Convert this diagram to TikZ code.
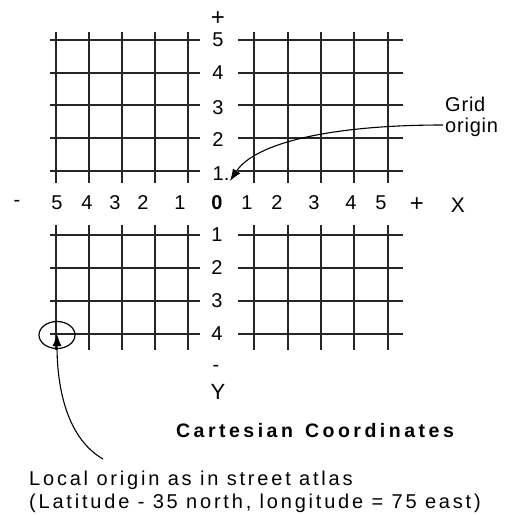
\documentclass[tikz,border=0pt]{standalone}
\usepackage{fontspec}
\setmainfont{Liberation Sans}
\newfontfamily\spacedfont[LetterSpace=18]{Liberation Sans}
\newfontfamily\notefont[LetterSpace=14]{Liberation Sans}
\newfontfamily\gofont[LetterSpace=4]{Liberation Sans}
\usetikzlibrary{arrows.meta,shapes.geometric}
\begin{document}
\begin{tikzpicture}[x=1pt,y=-1pt,
  gridline/.style={line width=2pt,black!85},
  lab/.style={font=\fontsize{20}{20}\selectfont,inner sep=0pt},
  big/.style={font=\fontsize{24}{24}\selectfont,inner sep=0pt},
  note/.style={font=\fontsize{20}{22}\notefont,inner sep=0pt,anchor=base west},
  gonote/.style={font=\fontsize{20}{22}\gofont,inner sep=0pt,anchor=base west},
  pointer/.style={line width=1.1pt,-{Latex[length=12pt,width=9pt]}}]
\useasboundingbox (0,0) rectangle (505,515);
% upper grids
\foreach \y in {40,73,105,138,171}{
  \draw[gridline] (50,\y) -- (200,\y);
  \draw[gridline] (238,\y) -- (403,\y);}
\foreach \x in {56,89,122,155,188}{\draw[gridline] (\x,32) -- (\x,183);}
\foreach \x in {254,288,321,354,388}{\draw[gridline] (\x,32) -- (\x,183);}
% lower grids
\foreach \y in {235,268,301,334}{
  \draw[gridline] (50,\y) -- (200,\y);
  \draw[gridline] (238,\y) -- (403,\y);}
\foreach \x in {56,89,122,155,188}{\draw[gridline] (\x,225) -- (\x,350);}
\foreach \x in {254,288,321,354,388}{\draw[gridline] (\x,225) -- (\x,350);}
% y labels
\node[big] (yp) at (218,19) {+};
\node[lab] (y5) at (218,40) {5};
\node[lab] (y4) at (218,73) {4};
\node[lab] (y3) at (218,108) {3};
\node[lab] (y2) at (218,140) {2};
\node[lab] (y1) at (221,174) {1.};
\node[lab] (yn1) at (217,235) {1};
\node[lab] (yn2) at (217,268) {2};
\node[lab] (yn3) at (217,301) {3};
\node[lab] (yn4) at (217,334) {4};
\node[lab] (ym) at (216,368) {-};
\node[font=\fontsize{22}{22}\selectfont,inner sep=0pt] (Y) at (218,392) {Y};
% x labels
\node[lab] (xm) at (17,203) {-};
\node[lab] (xn5) at (57,203) {5};
\node[lab] (xn4) at (87,203) {4};
\node[lab] (xn3) at (115,203) {3};
\node[lab] (xn2) at (143,203) {2};
\node[lab] (xn1) at (180,203) {1};
\node[lab,font=\fontsize{20}{20}\selectfont\bfseries] (o) at (217,203) {0};
\node[lab] (x1) at (247,203) {1};
\node[lab] (x2) at (277,203) {2};
\node[lab] (x3) at (314,203) {3};
\node[lab] (x4) at (351,203) {4};
\node[lab] (x5) at (381,203) {5};
\node[big] (xp) at (417,205) {+};
\node[font=\fontsize{21}{21}\selectfont,inner sep=0pt] (X) at (458,205) {X};
% grid origin
\node[gonote] (go1) at (445,111) {Grid};
\node[gonote] (go2) at (445,132) {origin};
\coordinate (gotip) at (230,181);
\draw[pointer] (443,125) .. controls (330,125) and (255,143) .. (gotip);
% local origin
\node[draw,ellipse,line width=1.2pt,minimum width=36pt,minimum height=27pt,inner sep=0pt] (lo) at (57,335) {};
\coordinate (lotip) at (57,334);
\node[note] (lo1) at (29,485) {Local origin as in street atlas};
\node[note] (lo2) at (29,508) {(Latitude - 35 north, longitude = 75 east)};
\draw[pointer] (103,459) .. controls (70,440) and (57,395) .. (lotip);
% title
\node[inner sep=0pt,font=\fontsize{19.5}{20}\spacedfont\bfseries] (title) at (315,431) {Cartesian\hspace{12pt}Coordinates};
\end{tikzpicture}
\end{document}
